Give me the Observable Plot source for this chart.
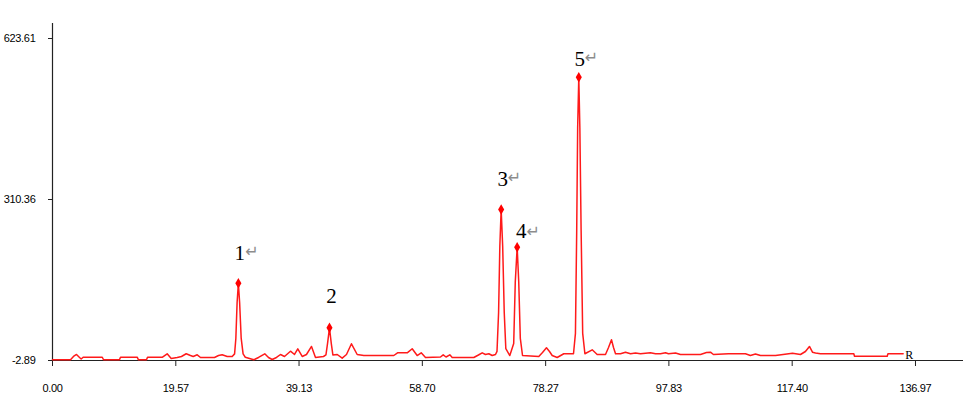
<!DOCTYPE html>
<html>
<head>
<meta charset="utf-8">
<script src="https://cdn.jsdelivr.net/npm/d3@7"></script>
<script src="https://cdn.jsdelivr.net/npm/@observablehq/plot@0.6"></script>
<style>
  html, body { margin: 0; padding: 0; background: #fff; }
  #chart svg { display: block; }
  #chart svg [aria-label$="tick label"] text { letter-spacing: -0.3px; }
</style>
</head>
<body>
<div id="chart"></div>
<script>
// ---- data (retention time in min, signal) ----
const times = [
  0, 2.86, 3.33, 3.81, 4.29, 4.55, 4.86, 7.9, 8.1, 10.63, 10.79, 13.44, 13.65, 14.92, 15.08,
  17.46, 18.2, 18.84, 19.79, 20.47, 21.22, 21.9, 22.33, 22.97, 23.49, 25.71, 26.35, 26.93,
  27.73, 28.52, 28.9, 29.1, 29.3, 29.5, 29.7, 29.95, 30.25, 30.6, 31.95, 32.7, 33.69, 34.28,
  34.87, 35.55, 36.19, 36.82, 37.77, 38.41, 38.93, 39.63, 40.31, 41.11, 41.74, 43.01, 43.4,
  43.65, 43.96, 44.25, 44.5, 45.19, 45.98, 46.66, 47.45, 48.36, 49.41, 54.17, 54.76, 56.3,
  57.09, 57.88, 58.52, 59.2, 61.58, 62.01, 62.46, 63.06, 63.44, 66.87, 67.6, 68.2, 68.72,
  69.25, 69.79, 70.31, 70.55, 70.8, 71.0, 71.21, 71.45, 71.7, 71.95, 72.58, 73.2, 73.45,
  73.75, 74.0, 74.25, 74.6, 77.18, 77.77, 78.4, 78.88, 79.31, 80.1, 81.15, 82.69, 83.0,
  83.2, 83.35, 83.53, 83.7, 83.9, 84.15, 84.5, 85.66, 86.45, 87.77, 88.25, 88.72, 89.04,
  89.36, 90.15, 90.94, 91.74, 92.53, 93.32, 94.91, 95.7, 96.5, 97.29, 97.77, 98.88, 99.67,
  102.85, 103.8, 104.43, 104.9, 107.28, 109.98, 110.77, 111.57, 112.37, 114.75, 117.45,
  118.72, 119.5, 120.14, 120.62, 121.1, 121.89, 127.18, 127.29, 132.48, 132.6, 135.01
];
const signal = [
  -1.5, -1.5, 4.9, 8.8, 3.0, 0.0, 3.5, 3.5, -1.5, -1.5, 3.5, 3.5, -1.5, -1.5, 3.5,
  3.5, 10.2, 1.0, 3.0, 4.9, 10.2, 6.8, 4.9, 8.2, 3.0, 3.0, 6.8, 8.2,
  4.9, 4.9, 10, 40, 110, 147.5, 110, 40, 10, 3.5, -1.5, 3.0, 10.2, 3.0,
  -0.9, 3.0, 8.8, 4.9, 15.2, 8.8, 19.9, 4.9, 8.8, 24.4, 3.0, 4.9, 8,
  30, 60.7, 30, 8, 8.8, 1.6, 8.8, 29.6, 8.8, 6.8, 6.8, 12.1, 12.1,
  19.9, 6.8, 12.1, 3.0, 3.9, 8.2, 3.9, 8.2, 3.0, 3.0, 7.8, 12.1, 8.8,
  10.2, 6.8, 8.8, 15, 90, 220, 290.9, 220, 90, 20, 6.8, 30, 150,
  217.5, 150, 40, 6.8, 4.9, 12.7, 21.8, 14.6, 6.8, 3.0, 10.2, 10.2, 50,
  250, 450, 548.3, 450, 250, 50, 10.2, 17.9, 8.8, 8.8, 22.5, 37.4, 22.5,
  10.2, 10.2, 13.3, 10.2, 11.7, 10.2, 12.1, 10.2, 10.2, 12.1, 10.2, 11.7, 8.8,
  8.8, 12.7, 13.3, 8.8, 10.2, 10.2, 6.8, 9.8, 6.8, 6.8, 11.3,
  8.8, 14.6, 24.4, 13.3, 11.7, 10.2, 10.2, 5.5, 5.5, 10.2, 10.2
];

// peaks
const peakNames = ["1", "2", "3", "4", "5"];
const peakSuffix = ["\u21B5", "", "\u21B5", "\u21B5", "\u21B5"];
const peakTimes = [29.5, 43.96, 71.21, 73.75, 83.53];
const peakValues = [147.5, 60.7, 290.9, 217.5, 548.3];

// axis ticks
const xTicks = [0.00, 19.57, 39.13, 58.70, 78.27, 97.83, 117.40, 136.97];
const yTicks = [-2.89, 310.36, 623.61];
const endMarker = "R";

// ---- build tables ----
const trace = times.map((t, i) => ({t, v: signal[i]}));
const peaks = peakNames.map((n, i) => ({name: n, suffix: peakSuffix[i], t: peakTimes[i], v: peakValues[i]}));
const last = trace[trace.length - 1];

// label layout (pixel offsets from each peak apex)
const numOffset = [[1.5, -30], [2, -31.5], [1.6, -30.7], [4, -16], [1, -18.4]];
const arrowOffset = [[13.7, -31], null, [13.3, -31.5], [16, -15], [12.7, -19]];

const labelMarks = [];
peaks.forEach((p, i) => {
  labelMarks.push(Plot.text([p], {
    x: "t", y: "v", text: "name",
    dx: numOffset[i][0], dy: numOffset[i][1],
    fontFamily: "'Liberation Serif', 'Times New Roman', serif",
    fontSize: 21, fill: "#000"
  }));
  if (p.suffix && arrowOffset[i]) {
    labelMarks.push(Plot.text([p], {
      x: "t", y: "v", text: "suffix",
      dx: arrowOffset[i][0], dy: arrowOffset[i][1],
      fontFamily: "'DejaVu Sans', sans-serif",
      fontSize: 16, fill: "#8c8c8c"
    }));
  }
});

const chart = Plot.plot({
  width: 975,
  height: 405,
  marginLeft: 52,
  marginRight: 12,
  marginTop: 23,
  marginBottom: 45,
  style: {
    fontFamily: "'Liberation Sans', sans-serif",
    fontSize: "11px",
    background: "#fff",
    color: "#000",
    overflow: "visible"
  },
  x: {domain: [0, 144.59]},
  y: {domain: [-2.89, 652.8]},
  marks: [
    Plot.axisY({ticks: yTicks, tickFormat: d => d.toFixed(2), tickSize: 4, tickPadding: 13, label: null, stroke: "#222"}),
    Plot.axisX({ticks: xTicks, tickFormat: d => d.toFixed(2), tickSize: 6, tickPadding: 18, label: null, stroke: "#222"}),
    Plot.ruleX([0], {stroke: "#222", strokeWidth: 1.2}),
    Plot.ruleY([-2.89], {stroke: "#222", strokeWidth: 1.2}),
    Plot.line(trace, {x: "t", y: "v", stroke: "#ff1a1a", strokeWidth: 1.5, curve: "linear"}),
    Plot.dot(peaks, {x: "t", y: "v", symbol: "diamond", r: 3.2, fill: "#ff0000", stroke: "none"}),
    Plot.text([last], {x: "t", y: "v", text: () => endMarker, dx: 2, dy: 1, textAnchor: "start",
      fontFamily: "'Liberation Serif', serif", fontSize: 12, fill: "#000"}),
    ...labelMarks
  ]
});
document.getElementById("chart").appendChild(chart);
</script>
</body>
</html>
